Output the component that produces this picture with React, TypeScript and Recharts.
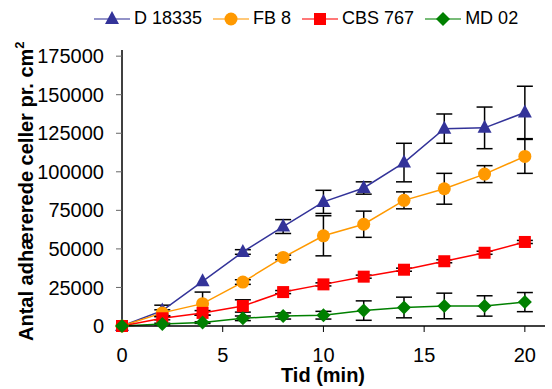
import React from 'react';
import {
  LineChart,
  Line,
  XAxis,
  YAxis,
  Legend,
  ErrorBar,
} from 'recharts';

const times = [0, 2, 4, 6, 8, 10, 12, 14, 16, 18, 20];

const d18335 = [0, 10000, 29000, 48000, 64500, 80500, 89500, 106000, 128000, 128500, 138500];
const d18335Err = [0, 3500, 0, 1500, 4500, 7500, 4000, 12500, 9500, 13500, 17000];
const fb8 = [0, 8500, 14500, 28500, 44500, 58500, 66000, 81500, 89000, 98500, 110000];
const fb8Err = [0, 2000, 7500, 1500, 1500, 13000, 8500, 5500, 10000, 5500, 11000];
const cbs767 = [0, 5000, 8500, 13000, 22000, 27000, 32000, 36500, 42000, 47500, 54500];
const cbs767Err = [0, 1000, 1500, 4000, 1000, 1000, 1000, 1000, 1000, 1000, 1000];
const md02 = [0, 1300, 2200, 5000, 6500, 7000, 10000, 12000, 13000, 13000, 15500];
const md02Err = [0, 500, 500, 1500, 2000, 2500, 6300, 6700, 8300, 6600, 6200];

const yTicks = [0, 25000, 50000, 75000, 100000, 125000, 150000, 175000];
const xTicks = [0, 5, 10, 15, 20];

const FONT = '"Liberation Sans", Arial, sans-serif';

type Shape = 'triangle' | 'circle' | 'square' | 'diamond';

const series: { key: string; name: string; color: string; shape: Shape }[] = [
  { key: 'd', name: 'D 18335', color: '#333399', shape: 'triangle' },
  { key: 'fb', name: 'FB 8', color: '#FF9900', shape: 'circle' },
  { key: 'cbs', name: 'CBS 767', color: '#FF0000', shape: 'square' },
  { key: 'md', name: 'MD 02', color: '#008000', shape: 'diamond' },
];

const data = times.map((t, i) => ({
  t,
  d: d18335[i],
  dErr: d18335Err[i],
  fb: fb8[i],
  fbErr: fb8Err[i],
  cbs: cbs767[i],
  cbsErr: cbs767Err[i],
  md: md02[i],
  mdErr: md02Err[i],
}));

function marker(shape: Shape, color: string, cx: number, cy: number, key?: any) {
  if (shape === 'triangle') {
    return (
      <polygon key={key} points={`${cx},${cy - 8} ${cx - 7},${cy + 5} ${cx + 7},${cy + 5}`} fill={color} />
    );
  }
  if (shape === 'circle') return <circle key={key} cx={cx} cy={cy} r={6.5} fill={color} />;
  if (shape === 'square') return <rect key={key} x={cx - 6} y={cy - 6} width={12} height={12} fill={color} />;
  return (
    <polygon key={key} points={`${cx},${cy - 7} ${cx + 7},${cy} ${cx},${cy + 7} ${cx - 7},${cy}`} fill={color} />
  );
}

const renderDot = (shape: Shape, color: string) => (props: any) => {
  const { cx, cy, index } = props;
  if (cx == null || cy == null) return <g key={index} />;
  return marker(shape, color, cx, cy, index);
};

const YLabel = () => (
  <text
    x={33}
    y={341}
    transform="rotate(-90, 33, 341)"
    fontFamily={FONT}
    fontSize={20}
    fontWeight="bold"
    fill="#000"
  >
    Antal adhærerede celler pr. cm
    <tspan fontSize={13} dy={-9}>2</tspan>
  </text>
);

const XLabel = () => (
  <text x={323} y={382} textAnchor="middle" fontFamily={FONT} fontSize={20} fontWeight="bold" fill="#000">
    Tid (min)
  </text>
);

const LegendContent = () => (
  <div style={{ display: 'flex', alignItems: 'center', fontFamily: FONT, fontSize: 18, color: '#000' }}>
    {series.map((s) => (
      <div key={s.key} style={{ display: 'flex', alignItems: 'center', marginRight: 11 }}>
        <svg width={36} height={20}>
          <line x1={0} x2={36} y1={10} y2={10} stroke={s.color} strokeWidth={1.5} opacity={0.7} />
          {marker(s.shape, s.color, 18, 10)}
        </svg>
        <span style={{ marginLeft: 4 }}>{s.name}</span>
      </div>
    ))}
  </div>
);

export default function App() {
  return (
    <div style={{ position: 'absolute', left: 0, top: 0, background: '#fff' }}>
      <LineChart
        width={552}
        height={389}
        data={data}
        margin={{ top: 20, right: 7, bottom: 0, left: 0 }}
      >
        <Legend
          verticalAlign="top"
          align="left"
          height={30}
          wrapperStyle={{ top: 8, left: 94, width: 460, height: 30 }}
          content={<LegendContent />}
        />
        <XAxis
          dataKey="t"
          type="number"
          domain={[0, 21]}
          ticks={xTicks}
          height={63}
          tickSize={6}
          tickMargin={16}
          axisLine={{ stroke: '#000', strokeWidth: 1.5 }}
          tickLine={{ stroke: '#000' }}
          tick={{ fontSize: 20, fill: '#000', fontFamily: FONT }}
          label={<XLabel />}
        />
        <YAxis
          type="number"
          domain={[0, 179000]}
          ticks={yTicks}
          width={122}
          tickSize={6}
          tickMargin={12}
          axisLine={{ stroke: '#000', strokeWidth: 1.5 }}
          tickLine={{ stroke: '#666' }}
          tick={{ fontSize: 20, fill: '#000', fontFamily: FONT }}
          label={<YLabel />}
        />
        {/* error bars first so the markers sit on top of them */}
        {series.map((s) => (
          <Line
            key={`${s.key}-err`}
            dataKey={s.key}
            stroke="none"
            dot={false}
            activeDot={false}
            legendType="none"
            isAnimationActive={false}
          >
            <ErrorBar dataKey={`${s.key}Err`} direction="y" width={8} stroke="#000" strokeWidth={1.5} />
          </Line>
        ))}
        {series.map((s) => (
          <Line
            key={s.key}
            dataKey={s.key}
            name={s.name}
            stroke={s.color}
            strokeWidth={1.5}
            dot={renderDot(s.shape, s.color)}
            activeDot={false}
            isAnimationActive={false}
          />
        ))}
      </LineChart>
    </div>
  );
}
